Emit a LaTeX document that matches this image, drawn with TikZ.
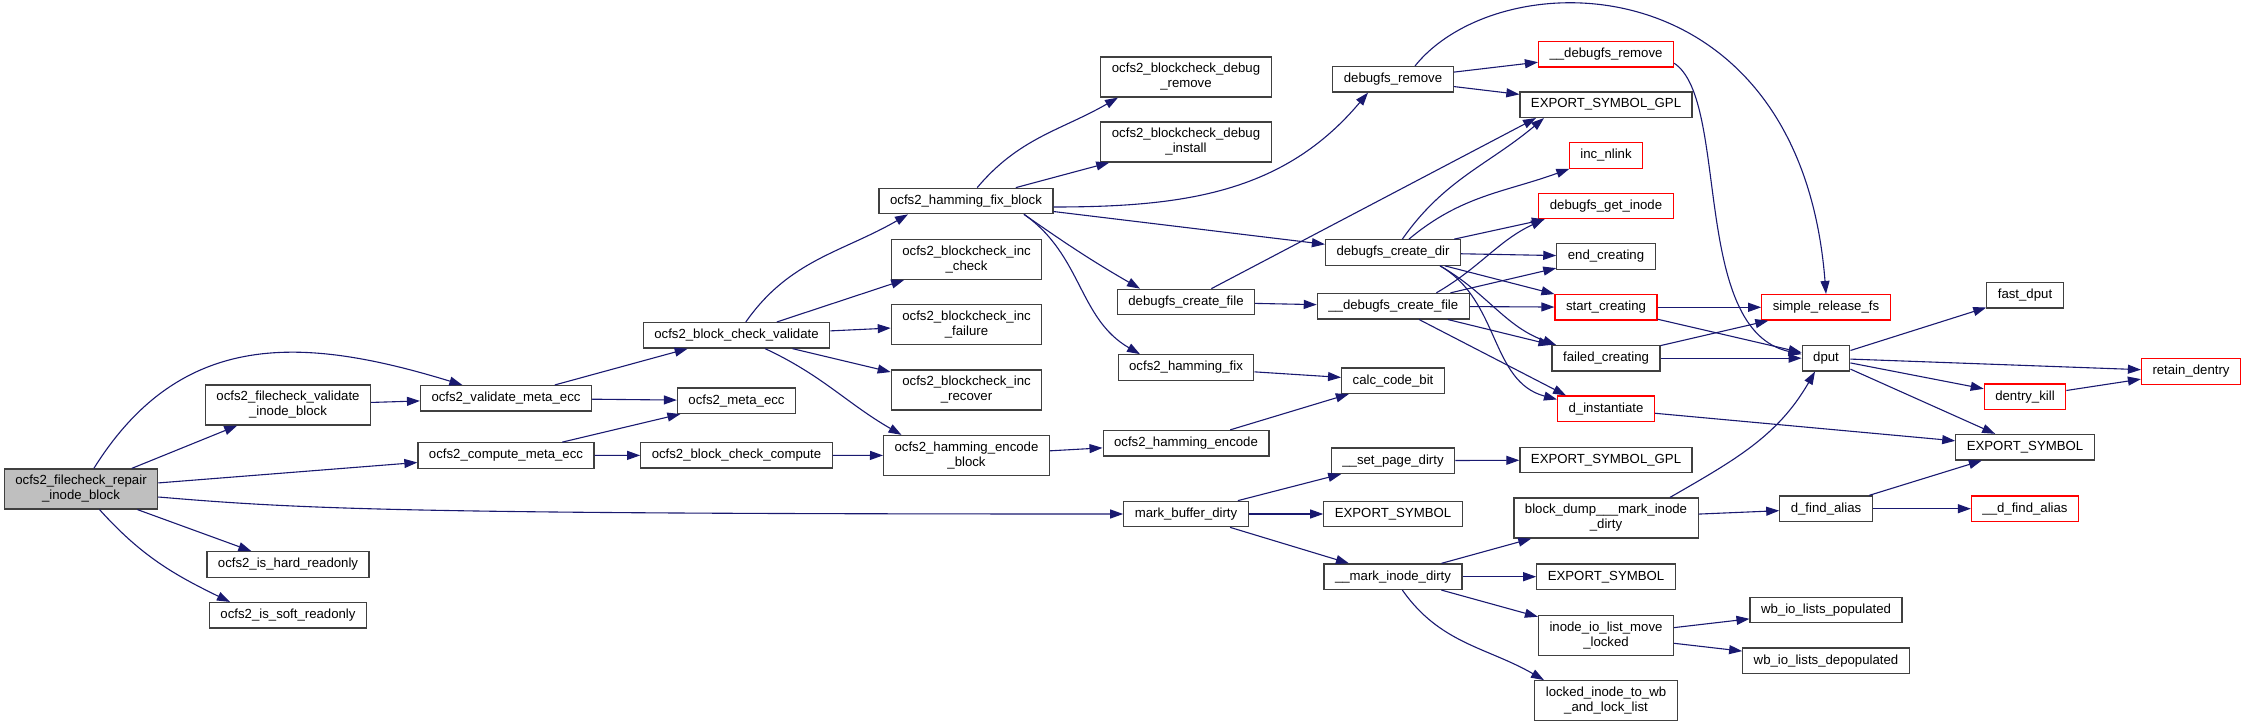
\documentclass[tikz,border=0pt]{standalone}
\usepackage{fontspec}
\setmainfont{Liberation Sans}
\usepackage{xcolor}
\usetikzlibrary{arrows.meta,positioning}
\definecolor{edgeblue}{HTML}{191970}
\definecolor{rootgray}{HTML}{BFBFBF}

\begin{document}
\begin{tikzpicture}[
  x=1pt,y=-1pt,
  font=\fontsize{13.2}{15}\selectfont,
  fn/.style={draw=black!75,line width=1.2pt,fill=white,align=center,inner xsep=11pt,inner ysep=4pt,minimum height=25.5pt},
  fn2/.style={fn,minimum height=40pt},
  ext/.style={draw=red},
  ar/.style={-{Triangle[length=13pt,width=9pt]},draw=edgeblue,line width=1.1pt}
]
\useasboundingbox (0,0) rectangle (2245,727);
% caller and first level
\node[fn2,fill=rootgray] (r0) at (81,489) {ocfs2\_filecheck\_repair\\\_inode\_block};
\node[fn2] (fcv) at (288,405) {ocfs2\_filecheck\_validate\\\_inode\_block};
\node[fn] (hro) at (288,564.5) {ocfs2\_is\_hard\_readonly};
\node[fn] (sro) at (288,615.3) {ocfs2\_is\_soft\_readonly};
\node[fn] (vme) at (506,398.3) {ocfs2\_validate\_meta\_ecc};
\node[fn] (cme) at (506,455.5) {ocfs2\_compute\_meta\_ecc};
\node[fn] (bcv) at (736.5,335.3) {ocfs2\_block\_check\_validate};
\node[fn] (mecc) at (736.5,400.7) {ocfs2\_meta\_ecc};
\node[fn] (bcc) at (736.5,455.3) {ocfs2\_block\_check\_compute};
% hamming / blockcheck
\node[fn] (hfb) at (966,201) {ocfs2\_hamming\_fix\_block};
\node[fn2] (ichk) at (966.5,259.3) {ocfs2\_blockcheck\_inc\\\_check};
\node[fn2] (ifail) at (966.5,324.5) {ocfs2\_blockcheck\_inc\\\_failure};
\node[fn2] (irec) at (966.5,390) {ocfs2\_blockcheck\_inc\\\_recover};
\node[fn2] (heb) at (966.5,455.5) {ocfs2\_hamming\_encode\\\_block};
\node[fn2] (dbrm) at (1186,77) {ocfs2\_blockcheck\_debug\\\_remove};
\node[fn2] (dbin) at (1186,142) {ocfs2\_blockcheck\_debug\\\_install};
\node[fn] (dcf) at (1186,302) {debugfs\_create\_file};
\node[fn] (hfx) at (1186,367.5) {ocfs2\_hamming\_fix};
\node[fn] (henc) at (1186,443.2) {ocfs2\_hamming\_encode};
\node[fn] (mbd) at (1186,514) {mark\_buffer\_dirty};
% debugfs column
\node[fn] (drm) at (1393,79.3) {debugfs\_remove};
\node[fn] (dcd) at (1393,252.5) {debugfs\_create\_dir};
\node[fn] (udcf) at (1393.3,306.2) {\_\_debugfs\_create\_file};
\node[fn] (ccb) at (1393,380.7) {calc\_code\_bit};
\node[fn] (spd) at (1393,460.7) {\_\_set\_page\_dirty};
\node[fn] (exs1) at (1393,514) {EXPORT\_SYMBOL};
\node[fn] (mid) at (1393,576.7) {\_\_mark\_inode\_dirty};
% callees
\node[fn,ext] (udrm) at (1606,54.2) {\_\_debugfs\_remove};
\node[fn] (gpl1) at (1606,104.7) {EXPORT\_SYMBOL\_GPL};
\node[fn,ext] (inl) at (1606,155.5) {inc\_nlink};
\node[fn,ext] (dgi) at (1606,206) {debugfs\_get\_inode};
\node[fn] (endc) at (1606,256.5) {end\_creating};
\node[fn,ext] (stc) at (1606,307.3) {start\_creating};
\node[fn] (fc) at (1606,358.2) {failed\_creating};
\node[fn,ext] (dins) at (1606,408.8) {d\_instantiate};
\node[fn] (gpl2) at (1606,460) {EXPORT\_SYMBOL\_GPL};
\node[fn2] (bdm) at (1606,518) {block\_dump\_\_\_mark\_inode\\\_dirty};
\node[fn] (exs2) at (1606,576.7) {EXPORT\_SYMBOL};
\node[fn2] (iolm) at (1606,635.5) {inode\_io\_list\_move\\\_locked};
\node[fn2] (liw) at (1606,700.7) {locked\_inode\_to\_wb\\\_and\_lock\_list};
\node[fn,ext] (srf) at (1826,307.3) {simple\_release\_fs};
\node[fn] (dput) at (1826,358.2) {dput};
\node[fn] (dfa) at (1826,508.7) {d\_find\_alias};
\node[fn] (wbp) at (1826,610) {wb\_io\_lists\_populated};
\node[fn] (wbd) at (1826,660.7) {wb\_io\_lists\_depopulated};
\node[fn] (fdp) at (2025,295.3) {fast\_dput};
\node[fn,ext] (dk) at (2025,396.8) {dentry\_kill};
\node[fn] (exs3) at (2025,447.2) {EXPORT\_SYMBOL};
\node[fn,ext] (udfa) at (2025,508.7) {\_\_d\_find\_alias};
\node[fn,ext] (rd) at (2191,371.5) {retain\_dentry};
% calls
\draw[ar] (r0) to[out=58,in=163,looseness=1.12] (vme);
\draw[ar] (r0) -- (fcv);
\draw[ar] (r0) -- (cme);
\draw[ar] ([yshift=-8pt]r0.east) .. controls (300,509) and (400,514) .. (mbd);
\draw[ar] (r0) -- (hro);
\draw[ar] (r0) to[out=-48,in=154] ([xshift=-58pt]sro.north);
\draw[ar] (fcv) -- (vme);
\draw[ar] (vme) -- (bcv); \draw[ar] (vme) -- (mecc);
\draw[ar] (cme) -- (mecc); \draw[ar] (cme) -- (bcc);
\draw[ar] (bcv) to[out=55,in=-150] ([xshift=-58pt]hfb.south);
\draw[ar] (bcv) -- (ichk); \draw[ar] (bcv) -- (ifail); \draw[ar] (bcv) -- (irec);
\draw[ar] (bcv) to[out=-25,in=150] ([xshift=-65pt]heb.north);
\draw[ar] (bcc) -- (heb);
\draw[ar] (hfb) to[out=50,in=-150] ([xshift=-68pt]dbrm.south);
\draw[ar] (hfb) -- (dbin);
\draw[ar] ([yshift=-6pt]hfb.east) to[out=0,in=-130] ([xshift=-25pt]drm.south);
\draw[ar] (hfb) -- (dcd);
\draw[ar] ([xshift=58pt]hfb.south) to[out=-35,in=150] ([xshift=-46pt]dcf.north);
\draw[ar] ([xshift=58pt]hfb.south) to[out=-35,in=150] ([xshift=-46pt]hfx.north);
\draw[ar] (heb) -- (henc);
\draw[ar] (hfx) -- (ccb); \draw[ar] (henc) -- (ccb);
\draw[ar] (dcf) -- ([xshift=-70pt]gpl1.south);
\draw[ar] (dcf) -- (udcf);
\draw[ar] (drm) -- (udrm); \draw[ar] (drm) -- (gpl1);
\draw[ar] ([xshift=22pt]drm.north) .. controls (1500,-40) and (1800,-40) .. (srf.north);
\draw[ar] ([yshift=-9pt]udrm.east) .. controls (1730,100) and (1690,330) .. ([yshift=4pt]dput.west);
\draw[ar] (dcd) to[out=55,in=-140] ([xshift=-62pt]gpl1.south);
\draw[ar] (dcd) to[out=40,in=-160] (inl);
\draw[ar] (dcd) -- (dgi); \draw[ar] (dcd) -- (endc); \draw[ar] (dcd) -- (stc);
\draw[ar] ([xshift=47pt]dcd.south) to[out=-30,in=160] ([xshift=-50pt]fc.north);
\draw[ar] ([xshift=47pt]dcd.south) to[out=-30,in=165] ([yshift=-4pt]dins.north west);
\draw[ar] ([xshift=43pt]udcf.north) to[out=30,in=-155] ([xshift=-62pt]dgi.south);
\draw[ar] (udcf) -- (endc); \draw[ar] (udcf) -- (stc); \draw[ar] (udcf) -- (fc);
\draw[ar] (udcf) -- ([xshift=-40pt]dins.north);
\draw[ar] (stc) -- (srf); \draw[ar] (stc) -- (dput);
\draw[ar] (fc) -- (srf); \draw[ar] (fc) -- (dput);
\draw[ar] (dins) -- (exs3);
\draw[ar] (dput) -- (fdp); \draw[ar] (dput) -- (rd);
\draw[ar] (dput) -- (dk); \draw[ar] (dput) -- (exs3);
\draw[ar] (dk) -- (rd);
\draw[ar] (mbd) -- (spd); \draw[ar] (mbd) -- (exs1); \draw[ar] (mbd) -- (mid);
\draw[ar] (spd) -- (gpl2);
\draw[ar] (mid) -- (bdm); \draw[ar] (mid) -- (exs2); \draw[ar] (mid) -- (iolm);
\draw[ar] (mid) to[out=-55,in=150] ([xshift=-62pt]liw.north);
\draw[ar] ([xshift=64pt]bdm.north) to[out=30,in=-120] ([xshift=-11pt]dput.south);
\draw[ar] (bdm) -- (dfa);
\draw[ar] (dfa) -- (exs3); \draw[ar] (dfa) -- (udfa);
\draw[ar] (iolm) -- (wbp); \draw[ar] (iolm) -- (wbd);
\end{tikzpicture}
\end{document}
